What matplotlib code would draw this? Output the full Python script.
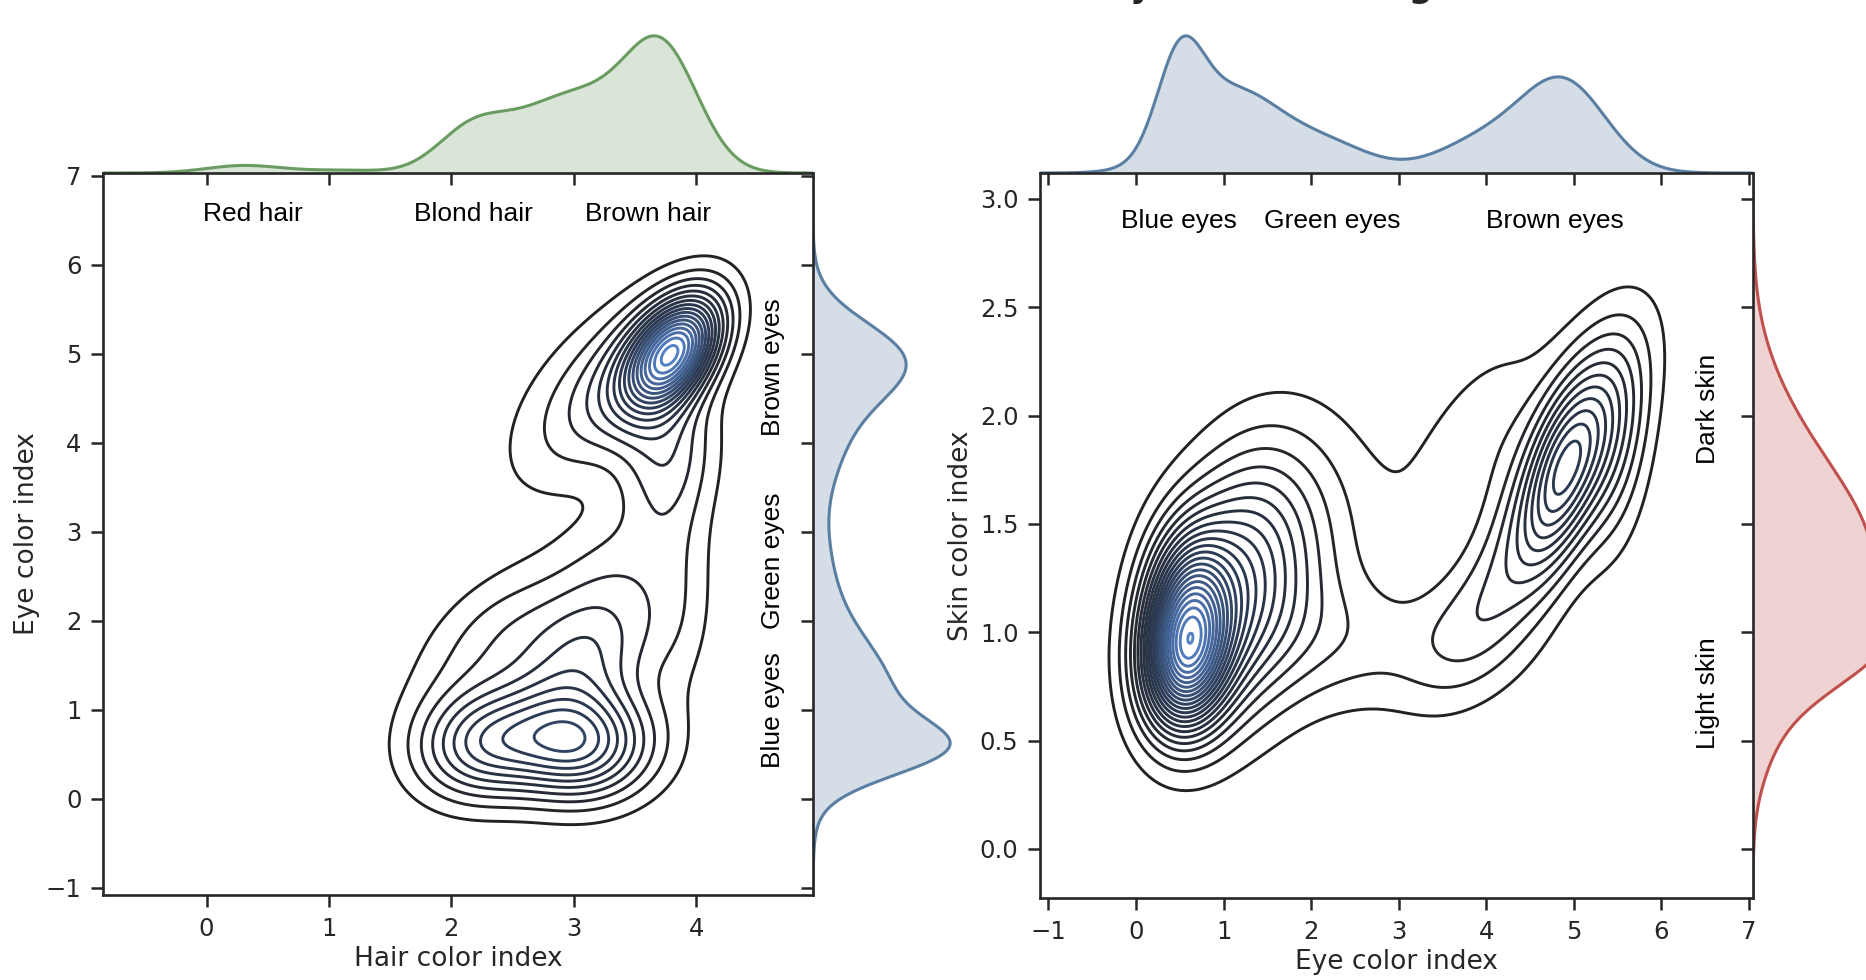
import numpy as np
import matplotlib
matplotlib.use("Agg")
import matplotlib.pyplot as plt
from matplotlib.colors import LinearSegmentedColormap

# ================= DATA =================
# density bumps (hair index x, eye index y)
# centre x, centre y, spread x, spread y, correlation, peak height (in contour steps)
hair_eye_mx = [3.82, 3.50, 2.95, 3.75, 3.85, 3.35, 3.05, 2.25, 3.10, 2.35]
hair_eye_my = [5.02, 4.80, 4.40, 3.90, 2.30, 2.70, 0.62, 0.62, 1.65, 1.85]
hair_eye_sx = [0.26, 0.40, 0.45, 0.28, 0.22, 0.35, 0.40, 0.38, 0.42, 0.45]
hair_eye_sy = [0.42, 0.65, 0.75, 0.60, 0.90, 0.45, 0.43, 0.43, 0.55, 0.55]
hair_eye_rho = [0.45, 0.60, 0.55, 0.10, 0.00, 0.20, 0.00, 0.10, 0.35, 0.50]
hair_eye_peak = [14.0, 3.5, 1.5, 3.5, 1.2, 1.4, 8.8, 6.5, 4.5, 2.2]

# density bumps (eye index x, skin index y)
eye_skin_mx = [0.55, 0.58, 1.10, 1.60, 4.88, 4.90, 3.90, 5.45, 3.90, 2.70]
eye_skin_my = [0.84, 1.10, 1.20, 1.30, 1.74, 1.75, 1.10, 1.85, 1.90, 0.95]
eye_skin_sx = [0.33, 0.33, 0.55, 0.80, 0.30, 0.55, 0.50, 0.30, 0.60, 1.10]
eye_skin_sy = [0.22, 0.26, 0.40, 0.45, 0.30, 0.40, 0.28, 0.35, 0.35, 0.22]
eye_skin_rho = [0.10, 0.10, 0.30, 0.30, 0.50, 0.70, 0.50, 0.20, 0.55, 0.00]
eye_skin_peak = [10.0, 10.0, 7.0, 2.8, 4.5, 6.5, 2.0, 2.5, 1.5, 1.9]

# marginal curves: bump centre, spread, height
hair_marg_m = [0.30, 1.10, 2.15, 2.70, 3.15, 3.72]
hair_marg_s = [0.30, 0.35, 0.28, 0.40, 0.35, 0.30]
hair_marg_h = [0.055, 0.020, 0.26, 0.33, 0.35, 0.90]
eye_l_marg_m = [0.55, 1.20, 2.50, 4.20, 4.95]
eye_l_marg_s = [0.30, 0.60, 0.60, 0.60, 0.42]
eye_l_marg_h = [0.72, 0.58, 0.12, 0.25, 0.60]
eye_r_marg_m = [0.50, 1.10, 2.20, 4.00, 4.90]
eye_r_marg_s = [0.26, 0.55, 0.50, 0.55, 0.48]
eye_r_marg_h = [0.68, 0.62, 0.20, 0.25, 0.66]
skin_marg_m = [0.50, 0.92, 1.35, 1.95]
skin_marg_s = [0.20, 0.20, 0.38, 0.33]
skin_marg_h = [0.08, 0.45, 0.72, 0.14]

hair_labels = ["Red hair", "Blond hair", "Brown hair"]
hair_label_x = [0.38, 2.18, 3.61]
eye_labels = ["Blue eyes", "Green eyes", "Brown eyes"]
eye_label_y = [1.00, 2.67, 4.85]
eye_label_x = [0.49, 2.24, 4.79]
skin_labels = ["Light skin", "Dark skin"]
skin_label_y = [0.72, 2.03]

left_xticks = [0, 1, 2, 3, 4]
left_yticks = [-1, 0, 1, 2, 3, 4, 5, 6, 7]
right_xticks = [-1, 0, 1, 2, 3, 4, 5, 6, 7]
right_yticks = [0.0, 0.5, 1.0, 1.5, 2.0, 2.5, 3.0]

# ================= STYLE =================
W, H = 1866, 980
plt.rcParams.update({
    "font.family": "DejaVu Sans",
    "axes.linewidth": 1.9,
    "axes.edgecolor": "#262626",
    "xtick.major.size": 8.5,
    "ytick.major.size": 8.5,
    "xtick.major.width": 1.8,
    "ytick.major.width": 1.8,
    "xtick.major.pad": 7,
    "ytick.major.pad": 7,
    "xtick.labelsize": 17.5,
    "ytick.labelsize": 17.5,
    "xtick.color": "#262626",
    "ytick.color": "#262626",
    "axes.labelsize": 19,
    "axes.labelcolor": "#262626",
})
contour_cmap = LinearSegmentedColormap.from_list("dk_blue", ["#222222", "#2c3b55", "#5480c4"])
ANN = dict(family="Liberation Sans", fontsize=19, color="black")


def px_axes(fig, x0, x1, ytop, ybot):
    return fig.add_axes([x0 / W, (H - ybot) / H, (x1 - x0) / W, (ybot - ytop) / H])


def mix_density(xx, yy, mx, my, sx, sy, rho, pk):
    z = np.zeros_like(xx)
    for a, b, s, t, r, k in zip(mx, my, sx, sy, rho, pk):
        dx = (xx - a) / s
        dy = (yy - b) / t
        q = (dx * dx - 2 * r * dx * dy + dy * dy) / (1 - r * r)
        z += k * np.exp(-q / 2)
    return z


def bumps(v, m, s, h):
    out = np.zeros_like(v)
    for a, b, k in zip(m, s, h):
        out += k * np.exp(-0.5 * ((v - a) / b) ** 2)
    return out


def joint(fig, box, xlim, ylim, comps, top_marg, side_marg, top_color, side_color,
          xticks, yticks, xlabel, ylabel):
    x0, x1, ytop, ybot, msize = box
    ax = px_axes(fig, x0, x1, ytop, ybot)
    axt = px_axes(fig, x0, x1, ytop - msize, ytop)
    axr = px_axes(fig, x1, x1 + msize, ytop, ybot)

    gx = np.linspace(xlim[0], xlim[1], 400)
    gy = np.linspace(ylim[0], ylim[1], 400)
    xx, yy = np.meshgrid(gx, gy)
    z = mix_density(xx, yy, *comps)
    levels = np.arange(1, int(np.floor(z.max())) + 1)
    colors = [contour_cmap(v) for v in np.linspace(0, 1, len(levels))]
    ax.contour(xx, yy, z, levels=levels, colors=colors, linewidths=2.1)

    ax.set_xlim(xlim)
    ax.set_ylim(ylim)
    ax.set_xticks(xticks)
    ax.set_yticks(yticks)
    ax.set_xlabel(xlabel)
    ax.set_ylabel(ylabel)
    ax.spines["top"].set_visible(False)
    ax.spines["right"].set_visible(False)

    # top marginal
    fx = bumps(gx, *top_marg)
    axt.fill_between(gx, 0, fx, color=top_color, alpha=0.25, lw=0)
    axt.plot(gx, fx, color=top_color, lw=2.2)
    axt.set_xlim(xlim)
    axt.set_ylim(0, fx.max() * 1.05)
    axt.set_xticks(xticks)
    axt.tick_params(axis="x", labelbottom=False)
    axt.set_yticks([])
    for s in ["top", "right", "left"]:
        axt.spines[s].set_visible(False)

    # side marginal
    fy = bumps(gy, *side_marg)
    axr.fill_betweenx(gy, 0, fy, color=side_color, alpha=0.25, lw=0)
    axr.plot(fy, gy, color=side_color, lw=2.2)
    axr.set_ylim(ylim)
    axr.set_xlim(0, fy.max() * 1.05)
    axr.set_yticks(yticks)
    axr.tick_params(axis="y", labelleft=False)
    axr.set_xticks([])
    for s in ["top", "right", "bottom"]:
        axr.spines[s].set_visible(False)
    return ax


fig = plt.figure(figsize=(W / 100, H / 100), dpi=100)

ax1 = joint(fig, (103, 813, 173, 895, 144), (-0.846, 4.955), (-1.08, 7.03),
            (hair_eye_mx, hair_eye_my, hair_eye_sx, hair_eye_sy, hair_eye_rho, hair_eye_peak),
            (hair_marg_m, hair_marg_s, hair_marg_h), (eye_l_marg_m, eye_l_marg_s, eye_l_marg_h),
            "#6a9c62", "#5a7fa3", left_xticks, left_yticks,
            "Hair color index", "Eye color index")
for lab, xv in zip(hair_labels, hair_label_x):
    ax1.text(xv, 6.57, lab, ha="center", va="center", **ANN)
for lab, yv in zip(eye_labels, eye_label_y):
    ax1.text(4.63, yv, lab, ha="center", va="center", rotation=90, **ANN)

ax2 = joint(fig, (1040, 1753, 173, 898, 144), (-1.097, 7.05), (-0.227, 3.12),
            (eye_skin_mx, eye_skin_my, eye_skin_sx, eye_skin_sy, eye_skin_rho, eye_skin_peak),
            (eye_r_marg_m, eye_r_marg_s, eye_r_marg_h), (skin_marg_m, skin_marg_s, skin_marg_h),
            "#5a7fa3", "#c0504d", right_xticks, right_yticks,
            "Eye color index", "Skin color index")
for lab, xv in zip(eye_labels, eye_label_x):
    ax2.text(xv, 2.90, lab, ha="center", va="center", **ANN)
for lab, yv in zip(skin_labels, skin_label_y):
    ax2.text(6.54, yv, lab, ha="center", va="center", rotation=90, **ANN)

# title sits mostly above the visible canvas
fig.text(1107 / W, 1 + 3 / H, "Eye Color Pairings", fontsize=24.3,
         fontweight="bold", ha="left", va="baseline", color="#262626")

fig.savefig("out.png", dpi=100)
